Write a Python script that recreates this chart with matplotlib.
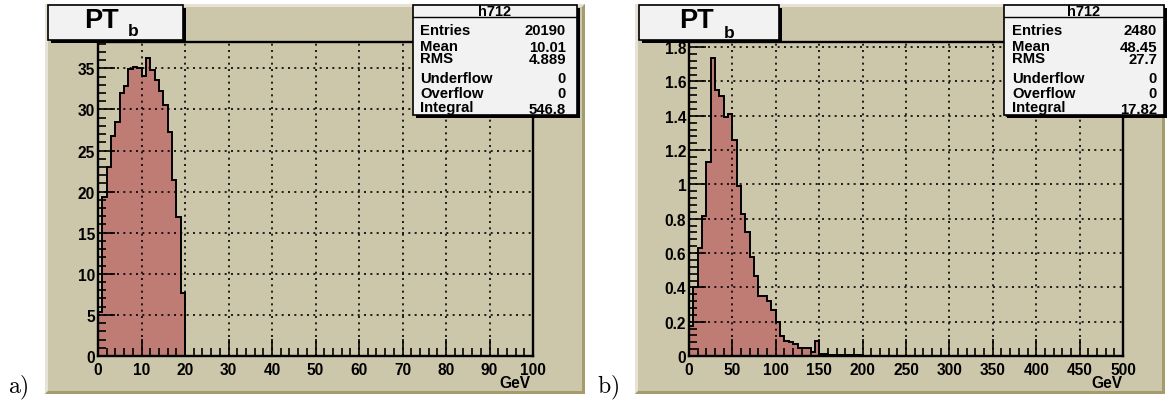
import numpy as np
import matplotlib
matplotlib.use("Agg")
from matplotlib import pyplot as plt
from matplotlib.patches import Rectangle, Polygon
from matplotlib.ticker import MultipleLocator, FuncFormatter

plt.rcParams['font.family'] = ['Liberation Sans', 'DejaVu Sans']
plt.rcParams['mathtext.fontset'] = 'cm'

# histogram a): 1 GeV bins, only the first 20 are filled
a_lo, a_width = 0, 1
a_values = [5.4, 19.4, 23.0, 26.8, 28.5, 32.0, 32.9, 34.9, 35.1, 35.0,
            34.1, 36.3, 34.8, 33.6, 32.2, 30.5, 27.3, 21.4, 16.9, 7.7]
a_stats = [("Entries", "20190"), ("Mean", "10.01"), ("RMS", "4.889"),
           ("Underflow", "0"), ("Overflow", "0"), ("Integral", "546.8")]

# histogram b): 5 GeV bins
b_lo, b_width = 0, 5
b_values = [0.177, 0.40, 0.628, 0.818, 1.13, 1.737, 1.551, 1.514, 1.392, 1.411,
            1.26, 0.993, 0.828, 0.725, 0.579, 0.465, 0.348, 0.348, 0.319, 0.268,
            0.196, 0.115, 0.089, 0.08, 0.07, 0.047, 0.045, 0.045, 0.021, 0.089,
            0.012, 0.01, 0.008, 0.008, 0.006, 0.005, 0.005, 0.004, 0.003, 0.003]
b_stats = [("Entries", "2480"), ("Mean", "48.45"), ("RMS", "27.7"),
           ("Underflow", "0"), ("Overflow", "0"), ("Integral", "17.82")]

hist_name = "h712"
x_unit = "GeV"

W, H = 1176, 406
canvas_col = '#ccc7aa'
fill_col = '#bf7c74'
box_col = '#f2f2f2'

fig = plt.figure(figsize=(W / 100, H / 100), dpi=100)
fig.patch.set_facecolor('white')

# pixel-space helper axes: one under the plots, one over them
bg = fig.add_axes([0, 0, 1, 1], zorder=0)
bg.set_xlim(0, W)
bg.set_ylim(H, 0)
bg.axis('off')
ov = fig.add_axes([0, 0, 1, 1], zorder=5)
ov.set_xlim(0, W)
ov.set_ylim(H, 0)
ov.axis('off')
ov.patch.set_alpha(0)


def draw_canvas(x0, x1, y0, y1):
    bg.add_patch(Rectangle((x0, y0), x1 - x0, y1 - y0, facecolor=canvas_col, edgecolor='none'))
    b = 3
    bg.add_patch(Polygon([(x0, y0), (x1, y0), (x1 - b, y0 + b), (x0 + b, y0 + b),
                          (x0 + b, y1 - b), (x0, y1)], closed=True,
                         facecolor='#e6e3d6', edgecolor='none'))
    bg.add_patch(Polygon([(x1, y0), (x1, y1), (x0, y1), (x0 + b, y1 - b),
                          (x1 - b, y1 - b), (x1 - b, y0 + b)], closed=True,
                         facecolor='#a49b6e', edgecolor='none'))


def shadow_box(x0, x1, y0, y1):
    ov.add_patch(Rectangle((x0 + 3, y0 + 3), x1 - x0, y1 - y0, facecolor='black', edgecolor='none'))
    ov.add_patch(Rectangle((x0, y0), x1 - x0, y1 - y0, facecolor=box_col,
                           edgecolor='black', linewidth=1.2))


def draw_title(x0, x1, pt_x, b_x, b_y):
    shadow_box(x0, x1, 6, 41)
    ov.text(pt_x, 21, "PT", fontsize=19.5, fontweight='bold', ha='center', va='center')
    ov.text(b_x, b_y, "b", fontsize=12.5, fontweight='bold', ha='center', va='center')


def draw_stats(x0, x1, lab_x, val_x, stats):
    shadow_box(x0, x1, 6, 116)
    ov.plot([x0, x1], [18, 18], color='black', linewidth=1.0)
    ov.text((x0 + x1) / 2, 12, hist_name, fontsize=10.5, fontweight='bold', ha='center', va='center')
    rows = [31, 47, 59, 79, 93.5, 108]
    vrows = [31, 48, 60.5, 79, 93.5, 110]
    for (lab, val), yr, yv in zip(stats, rows, vrows):
        ov.text(lab_x, yr, lab, fontsize=10.7, fontweight='bold', ha='left', va='center')
        ov.text(val_x, yv, val, fontsize=10.7, fontweight='bold', ha='right', va='center')


def draw_hist(left, right, values, lo, width, xmax, ymax, xmaj, xmin, ymaj, ymin):
    ax = fig.add_axes([left / W, (H - 357) / H, (right - left) / W, 314 / H], zorder=2)
    ax.set_facecolor(canvas_col)
    edges = lo + width * np.arange(len(values) + 1)
    ax.stairs(values, edges, fill=True, color=fill_col, zorder=2)
    ax.stairs(values, edges, baseline=0, color='black', linewidth=1.4, zorder=3)
    ax.set_xlim(0, xmax)
    ax.set_ylim(0, ymax)
    ax.xaxis.set_major_locator(MultipleLocator(xmaj))
    ax.xaxis.set_minor_locator(MultipleLocator(xmin))
    ax.yaxis.set_major_locator(MultipleLocator(ymaj))
    ax.yaxis.set_minor_locator(MultipleLocator(ymin))
    ax.yaxis.set_major_formatter(FuncFormatter(lambda v, p: '%g' % round(v, 4)))
    ax.xaxis.set_major_formatter(FuncFormatter(lambda v, p: '%g' % round(v, 4)))
    ax.tick_params(which='major', direction='in', length=12, width=1.2, pad=4,
                   labelsize=11.2)
    ax.tick_params(axis='y', which='major', pad=2)
    ax.tick_params(which='minor', direction='in', length=6, width=1.2)
    for lab in ax.get_xticklabels() + ax.get_yticklabels():
        lab.set_fontweight('bold')
    for s in ax.spines.values():
        s.set_linewidth(1.7)
    ax.grid(True, which='major', color='black', linestyle=(0, (1.2, 2.6)), linewidth=1.2)
    ax.set_axisbelow(False)
    return ax


draw_canvas(45, 585, 5, 395)
draw_canvas(635, 1165, 5, 395)

ax_a = draw_hist(98, 533, a_values, a_lo, a_width, 100, 38.2, 10, 2, 5, 1)
ax_b = draw_hist(689, 1123, b_values, b_lo, b_width, 500, 1.83, 50, 10, 0.2, 0.04)

draw_title(48, 183, 101, 133.5, 31)
draw_title(639, 779, 696, 729, 34)
draw_stats(413, 577, 420, 566, a_stats)
draw_stats(1004, 1164, 1012, 1157, b_stats)

ov.text(531, 384, x_unit, fontsize=11.2, fontweight='bold', ha='right', va='center')
ov.text(1122, 384, x_unit, fontsize=11.2, fontweight='bold', ha='right', va='center')
ov.text(8, 388, r'$\mathrm{a)}$', fontsize=17, ha='left', va='center')
ov.text(597, 388, r'$\mathrm{b)}$', fontsize=17, ha='left', va='center')

fig.savefig("out.png", dpi=100, facecolor='white')
